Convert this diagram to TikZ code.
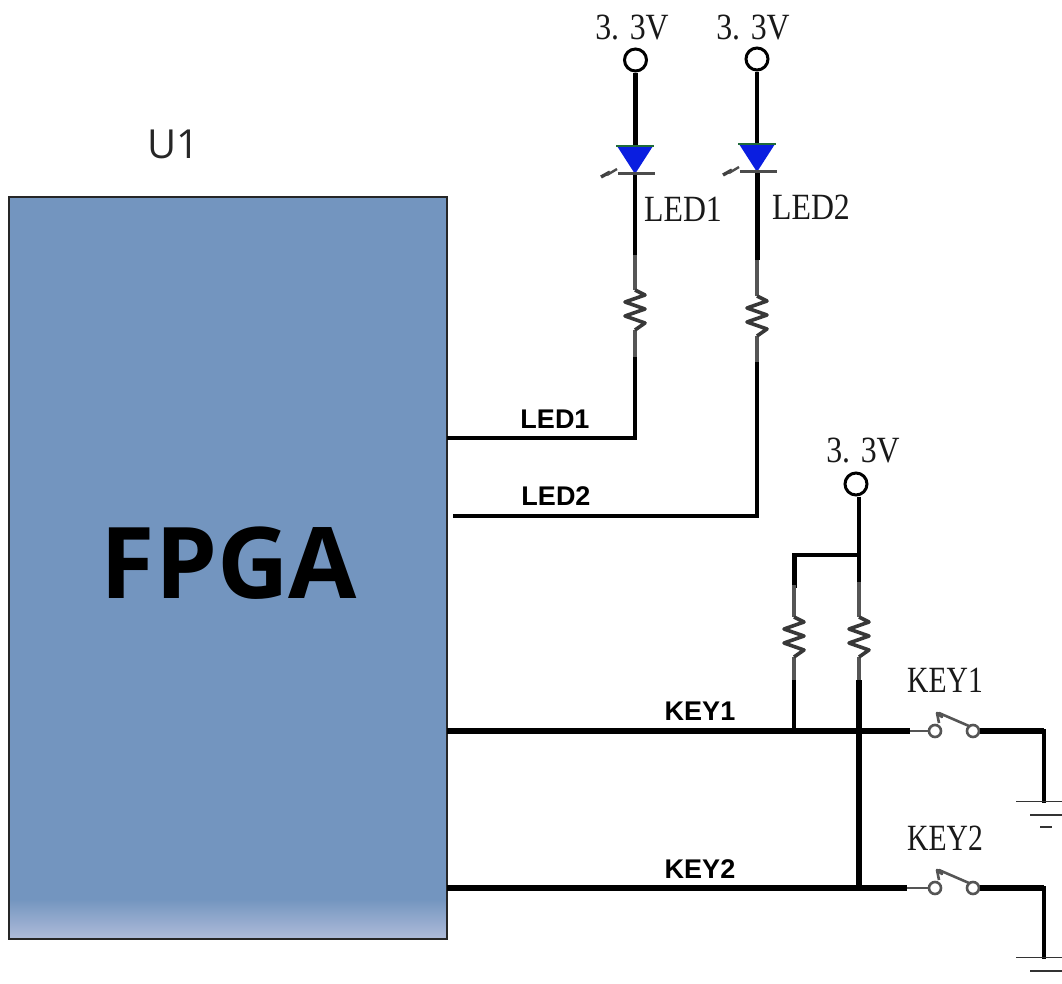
\documentclass[tikz,border=0pt]{standalone}
\usepackage{fontspec}
\setmainfont{Liberation Serif}
\newfontfamily\schemfont[FakeStretch=0.86]{Liberation Serif}
\newfontfamily\keyfont[FakeStretch=0.8]{Liberation Serif}
\newfontfamily\labfont{Liberation Sans}
\newfontfamily\chipfont{Open Sans}
\definecolor{chipblue}{HTML}{7395BF}
\definecolor{chiplight}{HTML}{AEBBD9}
\definecolor{ledblue}{HTML}{0A1EE0}
\definecolor{ledgreen}{HTML}{1F6B3A}
\definecolor{partgray}{HTML}{555555}
\tikzset{
  wire/.style={line width=4pt,black},
  heavywire/.style={line width=5.4pt,black},
  leadw/.style={line width=3.8pt,partgray},
  thinpart/.style={line width=2.6pt,partgray},
  gndline/.style={line width=1.8pt,black!80},
  terminal/.style={circle,draw=black,line width=3pt,fill=white,minimum size=22pt,inner sep=0pt},
  contact/.style={circle,draw=partgray,line width=2.6pt,fill=white,minimum size=12pt,inner sep=0pt},
  schemtext/.style={inner sep=0pt,text=black!90,font=\schemfont\fontsize{37}{37}\selectfont},
  keytext/.style={inner sep=0pt,text=black!90,font=\keyfont\fontsize{37}{37}\selectfont},
  bustext/.style={inner sep=0pt,font=\labfont\bfseries\fontsize{27}{27}\selectfont},
}
% resistor: x, top of body, bottom of body, top lead, bottom lead
\newcommand{\rzig}[5]{%
  \draw[leadw] (#1,#4) -- (#1,#2);
  \draw[leadw] (#1,#3) -- (#1,#5);
  \draw[line width=3.6pt,black!78,line join=round]
    (#1,#2) -- ++(10,5) -- ++(-20,7) -- ++(20,7) -- ++(-20,7) -- ++(20,7) -- ++(-10,7);
}
% LED: x, top y
\newcommand{\ledsym}[2]{%
  \fill[ledblue] (#1-18,#2) -- (#1+18,#2) -- (#1,#2+28) -- cycle;
  \draw[ledgreen,line width=2.4pt] (#1-19,#2) -- (#1+19,#2);
  \draw[black!70,line width=2.4pt] (#1-17,#2+27.5) -- (#1+20,#2+27.5);
  \draw[black!75,line width=3.4pt] (#1-34,#2+31) -- (#1-25,#2+26);
  \draw[black!70,line width=2.4pt] (#1-28,#2+29) -- (#1-18,#2+23);
}
% switch lever: x of left contact, y
\newcommand{\swlever}[2]{%
  \draw[thinpart,line join=round] (#1+5,#2-8) -- (#1+3,#2-18) -- (#1+8,#2-14) -- (#1+5,#2-18) -- (#1+35,#2-5);
}
\begin{document}
\begin{tikzpicture}[x=1pt,y=-1pt]
\useasboundingbox (0,0) rectangle (1062,983);
\clip (0,0) rectangle (1062,983);
% FPGA block
\fill[chipblue] (9,197) rectangle (447,900);
\shade[top color=chipblue,bottom color=chiplight] (9,899) rectangle (447,938);
\node[draw=black!85,line width=1.3pt,minimum width=438pt,minimum height=742pt,inner sep=0pt] (chip) at (228,568) {};
\node[inner sep=0pt,font=\chipfont\bfseries\fontsize{99}{99}\selectfont] (chipname) at (229,563) {FPGA};
\node[inner sep=0pt,text=black!85,font=\chipfont\fontsize{40}{40}\selectfont] (refdes) at (173,144) {U1};
% wires behind the terminals
\coordinate (vtop) at (859,490);
% terminals
\node[terminal] (v1) at (635.5,60) {};
\node[terminal] (v2) at (757,59) {};
\node[terminal] (v3) at (856,484) {};
\node[schemtext] (v1t) at (632,28) {3. 3V};
\node[schemtext] (v2t) at (753,28) {3. 3V};
\node[schemtext] (v3t) at (863,451) {3. 3V};
\node[schemtext] (led1t) at (683,209) {LED1};
\node[schemtext] (led2t) at (811,207) {LED2};
\node[keytext] (key1t) at (945,680) {KEY1};
\node[keytext] (key2t) at (945,838) {KEY2};
\node[bustext] (b1) at (555,419) {LED1};
\node[bustext] (b2) at (556,496) {LED2};
\node[bustext] (b3) at (700,711) {KEY1};
\node[bustext] (b4) at (700,869) {KEY2};
% LED branches
\coordinate (a1) at (635.5,145);
\coordinate (a2) at (635,173);
\coordinate (a3) at (635,255);
\coordinate (a4) at (635,357);
\coordinate (a5) at (635,438);
\coordinate (a6) at (447,438);
\coordinate (c1) at (757,144);
\coordinate (c2) at (757,172);
\coordinate (c3) at (757,260);
\coordinate (c4) at (757,362);
\coordinate (c5) at (757,516);
\coordinate (c6) at (453,516);
\draw[line width=5pt] (v1) -- (a1);
\draw[line width=3.6pt] (v2) -- (c1);
\draw[line width=3.4pt] (a2) -- (a3);
\draw[line width=5pt] (c2) -- (c3);
\draw[wire,line join=miter] (a4) -- (a5) -- (a6);
\draw[wire,line join=miter] (c4) -- (c5) -- (c6);
\ledsym{635}{146}
\ledsym{757}{144}
\rzig{635}{290}{330}{255}{357}
\rzig{757}{296}{336}{260}{362}
% pull-ups
\coordinate (j1) at (859,555);
\coordinate (j2) at (794,555);
\coordinate (p1) at (794,585);
\coordinate (p2) at (794,680);
\coordinate (p3) at (794,731);
\coordinate (q1) at (859,582);
\coordinate (q2) at (859,680);
\coordinate (q3) at (859,888);
\draw[line width=3.6pt] (v3.south -| vtop) -- (q1);
\draw[line width=3.6pt] (j1) -- (j2);
\draw[line width=5pt,line cap=rect] (j2) -- (p1);
\draw[line width=3.4pt] (p2) -- (p3);
\draw[heavywire] (q2) -- (q3);
\rzig{794}{617}{657}{585}{680}
\rzig{859}{617}{657}{582}{680}
% KEY1 row
\coordinate (k1a) at (447,731);
\coordinate (k1b) at (910,731);
\coordinate (k1e) at (1044,731);
\coordinate (g1) at (1044,801);
\node[contact] (s1a) at (935,731) {};
\node[contact] (s1b) at (973,731) {};
\draw[heavywire] (k1a) -- (k1b);
\draw[thinpart] (k1b) -- (s1a);
\draw[heavywire] (s1b) -- (k1e);
\draw[line width=4pt,line cap=rect] (k1e) -- (g1);
\swlever{934}{731}
% KEY2 row
\coordinate (k2a) at (447,888);
\coordinate (k2b) at (907,888);
\coordinate (k2e) at (1044,888);
\coordinate (g2) at (1044,957);
\node[contact] (s2a) at (935,888) {};
\node[contact] (s2b) at (973,888) {};
\draw[heavywire] (k2a) -- (k2b);
\draw[thinpart] (k2b) -- (s2a);
\draw[heavywire] (s2b) -- (k2e);
\draw[line width=4pt,line cap=rect] (k2e) -- (g2);
\swlever{934}{888}
% grounds
\draw[gndline] (1016,801.5) -- (1062,801.5);
\draw[gndline] (1030,815) -- (1062,815);
\draw[gndline] (1040,827) -- (1052,827);
\draw[gndline] (1016,957.5) -- (1062,957.5);
\draw[gndline] (1030,971) -- (1062,971);
\end{tikzpicture}
\end{document}
